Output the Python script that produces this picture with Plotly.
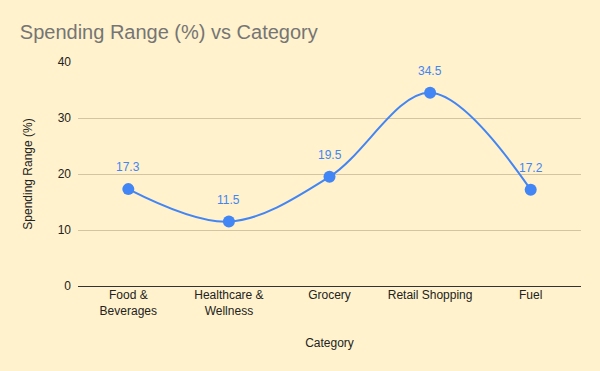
import plotly.graph_objects as go

categories = ["Food &<br>Beverages", "Healthcare &<br>Wellness", "Grocery", "Retail Shopping", "Fuel"]
values = [17.3, 11.5, 19.5, 34.5, 17.2]
labels = ["17.3", "11.5", "19.5", "34.5", "17.2"]

font = "Liberation Sans, Arial, sans-serif"
fig = go.Figure()
fig.add_trace(go.Scatter(
    x=categories, y=values, mode="lines+markers",
    line=dict(color="#4285F4", width=2, shape="spline", smoothing=1.0),
    marker=dict(color="#4285F4", size=12),
    cliponaxis=False,
))
for c, v, t in zip(categories, values, labels):
    fig.add_annotation(x=c, y=v, text=t, showarrow=False, yshift=22, yanchor="middle",
                       font=dict(color="#4285F4", size=12, family=font))
fig.update_layout(
    width=600, height=371,
    paper_bgcolor="#FFF2CC", plot_bgcolor="#FFF2CC",
    margin=dict(l=78, r=19, t=62, b=85),
    title=dict(text="Spending Range (%) vs Category", x=0.033, xanchor="left", y=0.915, yanchor="middle",
               font=dict(family=font, size=20, color="#757575")),
    font=dict(family=font, size=12, color="#222222"),
    showlegend=False,
    xaxis=dict(title=dict(text="Category", font=dict(size=12, color="#222222"), standoff=22),
               range=[-0.5, 4.5],
               showgrid=False, tickfont=dict(size=12, color="#222222"), ticks="", showline=False),
    yaxis=dict(title=dict(text="Spending Range (%)", font=dict(size=12, color="#222222"), standoff=22),
               range=[0, 40], dtick=10, gridcolor="#D3C5A2", gridwidth=1,
               zeroline=True, zerolinecolor="#333333", zerolinewidth=1,
               tickfont=dict(size=12, color="#222222"), ticks="", ticklabelstandoff=6),
)
fig.write_html("out.html", config={"displayModeBar": False},
               post_script="document.body.style.margin='0';document.body.style.padding='0';")
